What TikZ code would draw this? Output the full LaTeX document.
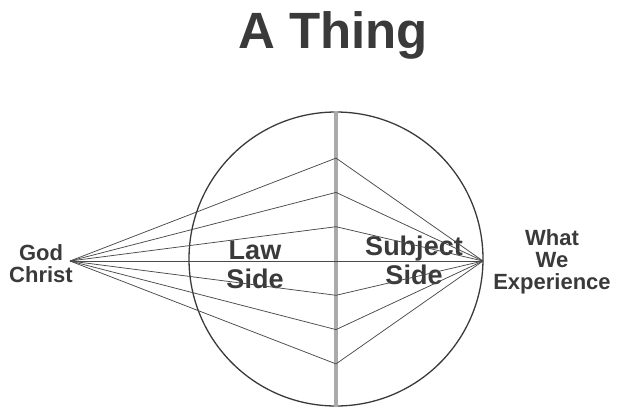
\documentclass[tikz,border=0pt]{standalone}
\usepackage{fontspec}
\setsansfont{Liberation Sans}
\usepackage{xcolor}
\usepackage{tikz}
\usetikzlibrary{positioning,calc}

\definecolor{ink}{HTML}{3A3A3A}
\definecolor{ray}{HTML}{4A4A4A}
\definecolor{axis}{HTML}{AAAAAA}

\begin{document}
\begin{tikzpicture}[
  x=1pt, y=-1pt,
  lbl/.style={font=\sffamily\bfseries\fontsize{22}{22}\selectfont, text=ink, align=center, inner sep=0pt},
  side/.style={font=\sffamily\bfseries\fontsize{27}{29}\selectfont, text=ink, align=center, inner sep=0pt},
  rayline/.style={ray, line width=0.75pt},
  every node/.style={font=\small}
]
  \useasboundingbox (0,0) rectangle (622,408);

  % Title
  \node[font=\sffamily\bfseries\fontsize{51}{51}\selectfont, text=ink, anchor=base] (title) at (333,48) {A Thing};

  % Circle and dividing line
  \node[draw=ink, line width=1.3pt, circle, minimum size=294pt, inner sep=0pt] (ball) at (336,259) {};
  \draw[axis, line width=4.5pt] (ball.north) -- (ball.south);

  % Side labels
  \node[side] (law) at (255,265) {Law\\Side};
  \node[side] (subj) at (414,260) {Subject\\Side};

  % Outer labels
  \node[lbl] (god) at (41,264) {God\\Christ};
  \node[lbl] (exp) at (552,262) {What\\We\\Experience};

  % Focus points
  \coordinate (src) at (70,261);
  \coordinate (dst) at (483,261);

  % Rays to the dividing line
  \foreach \k in {-3,...,3} {
    \coordinate (m\k) at ($(ball.center)+(0,2+\k*34.3)$);
    \draw[rayline] (src) -- (m\k);
    \draw[rayline] (m\k) -- (dst);
  }
\end{tikzpicture}
\end{document}
